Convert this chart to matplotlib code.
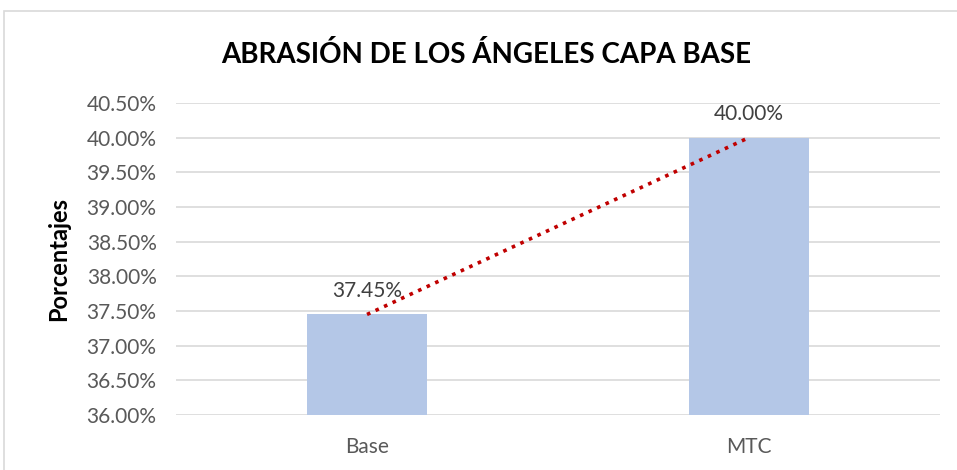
import matplotlib
matplotlib.use('agg')
import matplotlib.pyplot as plt
from matplotlib.patches import Rectangle
import numpy as np

categories = ["Base", "MTC"]
values = [37.45, 40.00]
yticks = [36.0, 36.5, 37.0, 37.5, 38.0, 38.5, 39.0, 39.5, 40.0, 40.5]

plt.rcParams['font.family'] = ['Lato', 'DejaVu Sans']

fig = plt.figure(figsize=(9.57, 4.70), dpi=100)
ax = fig.add_axes([0.184, 0.117, 0.798, 0.664])

x = np.arange(len(categories))
ax.bar(x, values, width=0.314, color="#B4C7E7", zorder=2)

# linear trendline
m, b = np.polyfit(x, values, 1)
ax.plot(x, m * x + b, color="#C00000", linestyle=(0, (1, 1.6)), linewidth=2.6, zorder=3)

for xi, v in zip(x, values):
    ax.text(xi, v + 0.2, f"{v:.2f}%", ha="center", va="bottom",
            fontsize=15, color="#404040", zorder=4)

ax.set_xlim(-0.5, 1.5)
ax.set_ylim(36.0, 40.5)
ax.set_yticks(yticks)
ax.set_yticklabels([f"{t:.2f}%" for t in yticks])
ax.set_xticks(x)
ax.set_xticklabels(categories)
ax.tick_params(axis="both", length=0, labelsize=15, labelcolor="#595959")
ax.tick_params(axis="y", pad=14)
ax.tick_params(axis="x", pad=16)
ax.grid(axis="y", color="#D9D9D9", linewidth=1.2, zorder=0)
for s in ax.spines.values():
    s.set_visible(False)

ax.set_ylabel("Porcentajes", fontsize=17, fontweight="bold", color="black", labelpad=12)

fig.text(0.508, 0.885, "ABRASIÓN DE LOS ÁNGELES CAPA BASE", ha="center", va="center",
         fontsize=20, fontweight="bold", color="black")

fig.patches.append(Rectangle((4 / 957, -0.05), 1.0, 1 - 11 / 470 + 0.05,
                             transform=fig.transFigure, fill=False,
                             edgecolor="#D9D9D9", linewidth=1.2))

plt.savefig("out.png", dpi=100)
